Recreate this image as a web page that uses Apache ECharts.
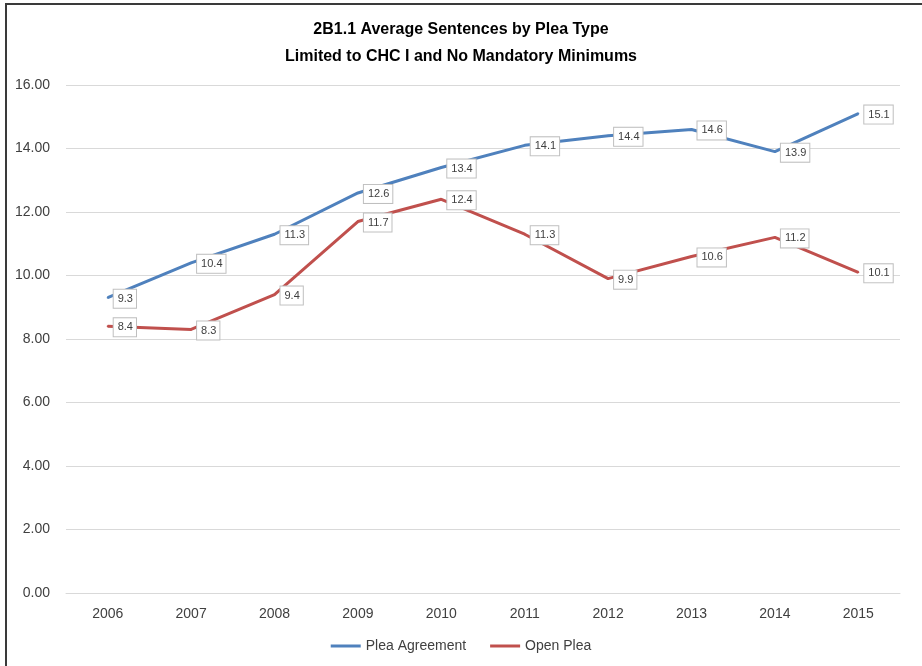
<!DOCTYPE html>
<html>
<head>
<meta charset="utf-8">
<script src="https://cdn.jsdelivr.net/npm/echarts@6/dist/echarts.min.js"></script>
<style>
    html, body { margin: 0; padding: 0; background: #fff; }
    #frame { position: absolute; left: 5px; top: 3px; width: 917px; height: 663px;
             border-left: 2px solid #3a3a3a; border-top: 2px solid #3a3a3a; box-sizing: border-box; }
    #chart { position: absolute; left: 0; top: 0; width: 922px; height: 666px; }
</style>
</head>
<body>
<div id="frame"></div>
<div id="chart"></div>
<script>
const varFont = 'Liberation Sans, sans-serif';

const years = ['2006', '2007', '2008', '2009', '2010', '2011', '2012', '2013', '2014', '2015'];
const pleaAgreement = [9.3, 10.4, 11.3, 12.6, 13.4, 14.1, 14.4, 14.6, 13.9, 15.1];
const openPlea = [8.4, 8.3, 9.4, 11.7, 12.4, 11.3, 9.9, 10.6, 11.2, 10.1];

const seriesArray = [
    { name: 'Plea Agreement', data: pleaAgreement, color: '#4f81bd' },
    { name: 'Open Plea', data: openPlea, color: '#c0504d' },
];

let seriesItems = [];
seriesArray.forEach((arr) => {
    seriesItems.push({
        name: arr.name,
        type: 'line',
        data: arr.data,
        symbol: 'circle',
        symbolSize: 2,
        lineStyle: { color: arr.color, width: 3 },
        itemStyle: { color: arr.color },
        label: {
            show: true,
            position: 'right',
            distance: 5,
            offset: [0, 1],
            formatter: (p) => p.value.toFixed(1),
            color: '#404040',
            fontSize: 11,
            fontFamily: varFont,
            backgroundColor: '#fff',
            borderColor: '#bfbfbf',
            borderWidth: 1,
            padding: [4, 3, 3, 4],
        },
        emphasis: { disabled: true },
        animation: false,
    });
});

var option = {
    animation: false,
    textStyle: { fontFamily: varFont },
    title: {
        text: '2B1.1 Average Sentences by Plea Type\nLimited to CHC I and No Mandatory Minimums',
        left: 'center',
        top: 11,
        textStyle: {
            fontFamily: varFont,
            fontSize: 16,
            fontWeight: 'bold',
            color: '#000',
            lineHeight: 27,
        },
    },
    legend: {
        bottom: 8,
        left: 'center',
        icon: 'rect',
        itemWidth: 30,
        itemHeight: 3,
        itemGap: 24,
        textStyle: { fontSize: 14, color: '#404040', fontFamily: varFont },
    },
    grid: { left: 66, right: 22, top: 85, bottom: 73 },
    xAxis: {
        type: 'category',
        data: years,
        boundaryGap: true,
        axisLine: { lineStyle: { color: '#d9d9d9' } },
        axisTick: { show: false },
        axisLabel: { color: '#404040', fontSize: 14, margin: 14, fontFamily: varFont },
    },
    yAxis: {
        type: 'value',
        min: 0,
        max: 16,
        interval: 2,
        axisLine: { show: false },
        axisTick: { show: false },
        splitLine: { lineStyle: { color: '#d9d9d9' } },
        axisLabel: { color: '#404040', fontSize: 14, margin: 16, fontFamily: varFont, formatter: (v) => v.toFixed(2) },
    },
    series: seriesItems,
};

var myChart = echarts.init(document.getElementById('chart'));
myChart.setOption(option);
</script>
</body>
</html>
